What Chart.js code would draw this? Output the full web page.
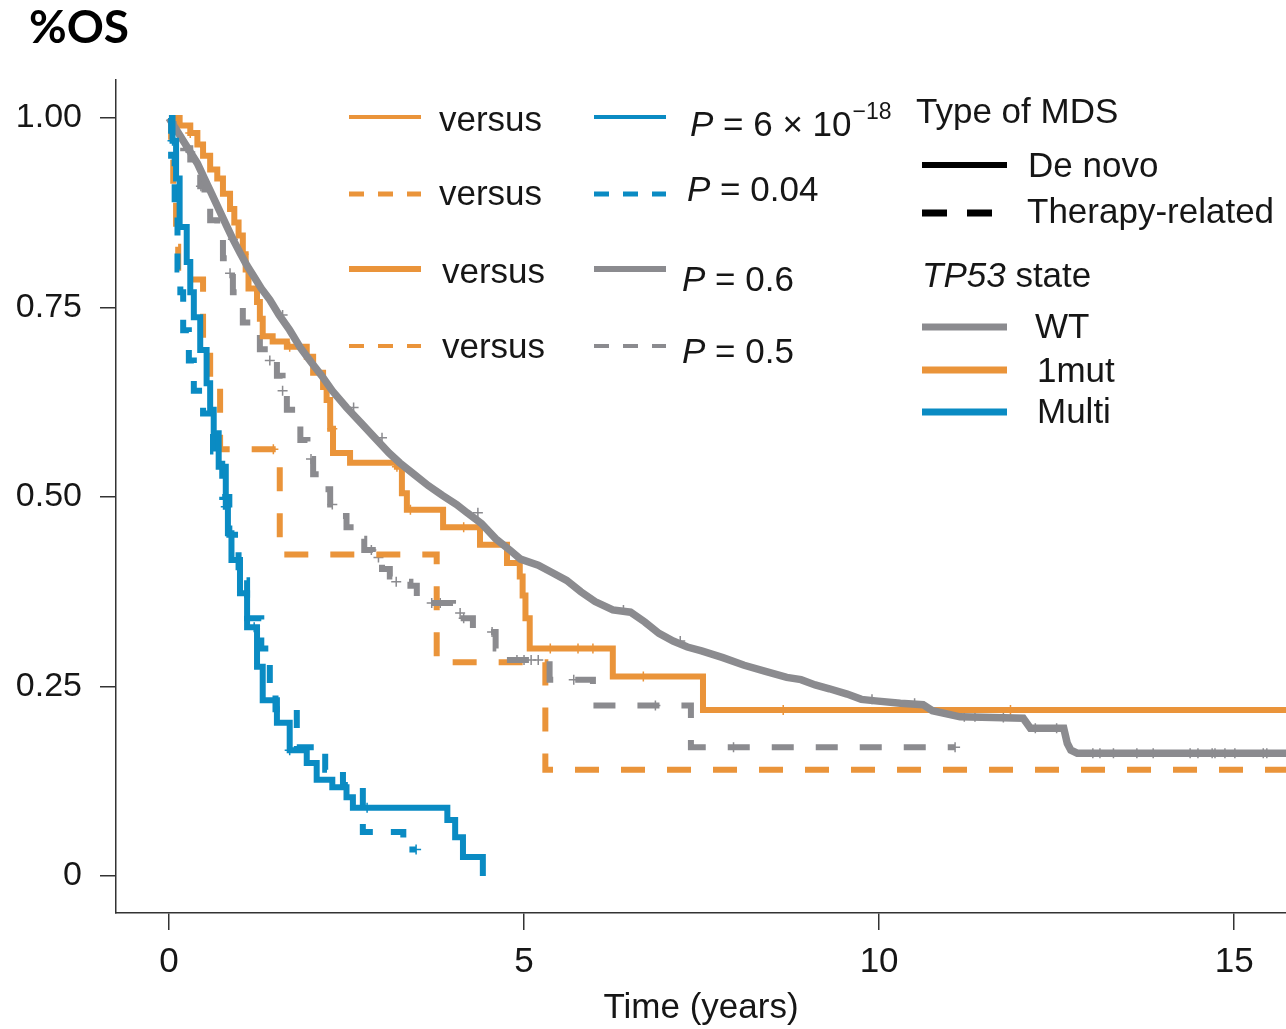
<!DOCTYPE html>
<html>
<head>
<meta charset="utf-8">
<script src="https://cdn.jsdelivr.net/npm/chart.js@4.4.1/dist/chart.umd.min.js"></script>
<style>
  html, body { margin: 0; padding: 0; background: #fff; }
  #osChart { display: block; }
</style>
</head>
<body>
<canvas id="osChart" width="1286" height="1029"></canvas>
<script>
const GRAY = "#8b8b8f";
const ORANGE = "#ea943a";
const BLUE = "#0a8bc3";
const AXIS = "#333333";
const INK = "#161616";
const SANS = "'Liberation Sans', Arial, Helvetica, sans-serif";

// Kaplan-Meier steps: time (years) and survival right after the drop at that time

// TP53 WT, de novo (hundreds of small events, drawn as a polyline)
const wtDeNovoTime = [0, 0.1, 0.2, 0.3, 0.4, 0.5, 0.6, 0.7, 0.8, 0.9, 1.0, 1.1, 1.2, 1.3, 1.42, 1.55, 1.7, 1.85, 2.0, 2.15, 2.3, 2.5, 2.7, 2.9, 3.1, 3.25, 3.45, 3.65, 3.85, 4.05, 4.2, 4.4, 4.6, 4.8, 4.95, 5.2, 5.4, 5.6, 5.8, 6.0, 6.25, 6.5, 6.7, 6.9, 7.1, 7.3, 7.5, 7.8, 8.1, 8.4, 8.7, 8.9, 9.1, 9.3, 9.55, 9.75, 9.95, 10.3, 10.62, 10.75, 11.14, 11.6, 12.03, 12.13, 12.6, 12.65, 12.7, 12.79, 15.73];
const wtDeNovoSurv = [1.0, 0.985, 0.97, 0.955, 0.94, 0.92, 0.9, 0.88, 0.86, 0.84, 0.822, 0.805, 0.79, 0.775, 0.76, 0.74, 0.72, 0.697, 0.678, 0.66, 0.64, 0.618, 0.598, 0.578, 0.558, 0.545, 0.53, 0.515, 0.502, 0.49, 0.479, 0.465, 0.445, 0.43, 0.418, 0.41, 0.4, 0.39, 0.375, 0.362, 0.351, 0.348, 0.335, 0.32, 0.31, 0.302, 0.297, 0.288, 0.278, 0.27, 0.262, 0.259, 0.252, 0.247, 0.24, 0.233, 0.231, 0.228, 0.226, 0.218, 0.21, 0.209, 0.208, 0.195, 0.195, 0.175, 0.166, 0.162, 0.162];
const wtDeNovoCensor = [0.3, 0.9, 1.6, 2.6, 3.0, 4.35, 6.4, 7.2, 9.9, 10.5, 11.2, 11.35, 11.75, 12.2, 12.5, 13.01, 13.11, 13.3, 13.63, 13.86, 14.38, 14.49, 14.69, 14.73, 14.87, 15.01, 15.41, 15.46];

// TP53 WT, therapy-related
const wtTherapyTime = [0, 0.1, 0.2, 0.3, 0.44, 0.5, 0.58, 0.68, 0.76, 0.85, 0.9, 1.0, 1.04, 1.15, 1.28, 1.4, 1.52, 1.6, 1.66, 1.78, 1.85, 1.95, 2.03, 2.15, 2.27, 2.4, 2.5, 2.65, 2.75, 2.87, 3.0, 3.11, 3.2, 3.4, 3.49, 4.0, 4.15, 4.28, 4.45, 4.6, 4.66, 5.36, 5.97, 7.35, 11.07];
const wtTherapySurv = [1.0, 0.98, 0.96, 0.94, 0.91, 0.89, 0.865, 0.845, 0.815, 0.795, 0.77, 0.75, 0.73, 0.715, 0.695, 0.68, 0.66, 0.64, 0.615, 0.595, 0.575, 0.55, 0.53, 0.51, 0.49, 0.475, 0.46, 0.445, 0.43, 0.42, 0.405, 0.395, 0.388, 0.383, 0.36, 0.347, 0.34, 0.325, 0.322, 0.3, 0.285, 0.259, 0.225, 0.17, 0.17];
const wtTherapyCensor = [0.45, 0.86, 1.42, 1.6, 2.0, 2.3, 2.85, 2.95, 3.2, 3.7, 3.82, 4.1, 4.15, 4.55, 4.9, 5.0, 5.1, 5.2, 5.7, 6.85, 7.95, 11.07];

// TP53 single mutation, de novo
const oneMutDeNovoTime = [0, 0.15, 0.3, 0.4, 0.48, 0.58, 0.68, 0.76, 0.86, 0.92, 0.98, 1.04, 1.08, 1.12, 1.24, 1.28, 1.32, 1.46, 1.66, 1.94, 2.03, 2.17, 2.22, 2.27, 2.31, 2.55, 3.21, 3.28, 3.35, 3.86, 4.38, 4.76, 4.94, 4.98, 5.02, 5.08, 6.25, 7.52, 15.73];
const oneMutDeNovoSurv = [1.0, 0.99, 0.98, 0.965, 0.95, 0.932, 0.92, 0.9, 0.88, 0.862, 0.845, 0.82, 0.8, 0.775, 0.757, 0.735, 0.712, 0.705, 0.698, 0.685, 0.664, 0.645, 0.628, 0.59, 0.558, 0.545, 0.54, 0.505, 0.483, 0.46, 0.437, 0.413, 0.395, 0.37, 0.34, 0.3, 0.263, 0.219, 0.219];
const oneMutDeNovoCensor = [0.3, 1.05, 1.7, 2.3, 3.21, 3.4, 4.15, 5.37, 5.76, 5.97, 6.68, 8.65, 11.85];

// TP53 single mutation, therapy-related
const oneMutTherapyTime = [0, 0.03, 0.06, 0.1, 0.13, 0.48, 0.58, 0.72, 1.56, 3.77, 5.3, 15.73];
const oneMutTherapySurv = [1.0, 0.96, 0.9, 0.83, 0.787, 0.7, 0.655, 0.563, 0.424, 0.282, 0.14, 0.14];
const oneMutTherapyCensor = [1.47];

// TP53 multi-hit, de novo
const multiDeNovoTime = [0, 0.05, 0.1, 0.15, 0.25, 0.3, 0.35, 0.44, 0.53, 0.58, 0.63, 0.7, 0.8, 0.83, 0.88, 1.0, 1.1, 1.24, 1.32, 1.52, 1.7, 1.94, 2.08, 2.3, 2.5, 2.59, 3.92, 4.03, 4.14, 4.42];
const multiDeNovoSurv = [1.0, 0.97, 0.92, 0.856, 0.81, 0.77, 0.737, 0.694, 0.65, 0.615, 0.584, 0.54, 0.487, 0.452, 0.417, 0.373, 0.328, 0.276, 0.232, 0.202, 0.166, 0.149, 0.127, 0.117, 0.104, 0.09, 0.074, 0.051, 0.025, 0];
const multiDeNovoCensor = [0.05, 0.8, 1.2, 1.7, 2.79];

// TP53 multi-hit, therapy-related
const multiTherapyTime = [0, 0.03, 0.08, 0.12, 0.16, 0.2, 0.28, 0.35, 0.48, 0.62, 0.75, 0.85, 0.98, 1.1, 1.3, 1.42, 1.5, 1.8, 2.2, 2.45, 2.73, 3.3, 3.48];
const multiTherapySurv = [1.0, 0.95, 0.88, 0.8, 0.77, 0.72, 0.68, 0.64, 0.61, 0.56, 0.5, 0.45, 0.39, 0.34, 0.3, 0.25, 0.22, 0.17, 0.14, 0.12, 0.058, 0.035, 0.035];
const multiTherapyCensor = [3.48];

// axis ticks
const xTickValues = [0, 5, 10, 15];
const xTickLabels = ["0", "5", "10", "15"];
const yTickValues = [0, 0.25, 0.5, 0.75, 1];
const yTickLabels = ["0", "0.25", "0.50", "0.75", "1.00"];

// in-plot comparison legend
const compareP = ["6 \u00d7 10", "0.04", "0.6", "0.5"];
const comparePExp = "\u221218";


function steps(times, surv) {
    return times.map((t, i) => ({ x: t, y: surv[i] }));
}

function survivalAt(times, surv, t) {
    let s = surv[0];
    for (let i = 0; i < times.length; i++) {
        if (times[i] <= t) s = surv[i];
    }
    return s;
}

function censorMarks(times, surv, censor) {
    return censor.map((t) => ({ x: t, y: survivalAt(times, surv, t) }));
}

function curve(times, surv, color, width, dash, stepped) {
    return {
        data: steps(times, surv),
        borderColor: color,
        borderWidth: width,
        borderDash: dash || [],
        borderCapStyle: "butt",
        borderJoinStyle: "miter",
        stepped: stepped === undefined ? "before" : stepped,
        pointRadius: 0,
        fill: false,
    };
}

function marks(times, surv, censor, color) {
    return {
        data: censorMarks(times, surv, censor),
        showLine: false,
        pointStyle: "cross",
        pointRadius: 5,
        pointBorderWidth: 1.5,
        pointBorderColor: color,
        pointBackgroundColor: color,
    };
}

function segment(ctx, x1, x2, y, color, width, dash) {
    ctx.save();
    ctx.strokeStyle = color;
    ctx.lineWidth = width;
    ctx.lineCap = "butt";
    ctx.setLineDash(dash || []);
    ctx.beginPath();
    ctx.moveTo(x1, y);
    ctx.lineTo(x2, y);
    ctx.stroke();
    ctx.restore();
}

function pText(ctx, x, y, rest, exp) {
    ctx.font = "italic 35px " + SANS;
    ctx.fillText("P", x, y);
    x += ctx.measureText("P").width;
    ctx.font = "35px " + SANS;
    const body = " = " + rest;
    ctx.fillText(body, x, y);
    if (exp) {
        x += ctx.measureText(body).width + 1;
        ctx.font = "23px " + SANS;
        ctx.fillText(exp, x, y - 17);
    }
}

const kmLegend = {
    id: "kmLegend",
    afterDraw(chart) {
        const ctx = chart.ctx;
        ctx.save();
        ctx.fillStyle = "#000";
        ctx.textAlign = "left";
        ctx.textBaseline = "alphabetic";

        ctx.font = "bold 46px Lato, 'Open Sans', sans-serif";
        ctx.fillText("%OS", 29, 43);

        // versus rows
        const rowY = [117, 194, 269, 346];
        const textY = [131, 205, 283, 358];
        const pY = [136, 201, 291, 363];
        const versusX = [439, 439, 442, 442];
        const pX = [690, 687, 682, 682];
        const left = [
            [ORANGE, 4, []], [ORANGE, 5, [15, 14]], [ORANGE, 6, []], [ORANGE, 4, [15, 14]],
        ];
        const right = [
            [BLUE, 4, []], [BLUE, 5, [15, 14]], [GRAY, 6, []], [GRAY, 4, [15, 14]],
        ];
        ctx.fillStyle = INK;
        for (let i = 0; i < 4; i++) {
            segment(ctx, 349, 421, rowY[i], left[i][0], left[i][1], left[i][2]);
            segment(ctx, 594, 666, rowY[i], right[i][0], right[i][1], right[i][2]);
            ctx.font = "35px " + SANS;
            ctx.fillText("versus", versusX[i], textY[i]);
            pText(ctx, pX[i], pY[i], compareP[i], i === 0 ? comparePExp : null);
        }

        // type of MDS / TP53 state key
        ctx.font = "35px " + SANS;
        ctx.fillText("Type of MDS", 916, 123);
        segment(ctx, 922, 1007, 165, "#000", 6);
        ctx.fillText("De novo", 1028, 177);
        segment(ctx, 922, 992, 213, "#000", 7, [25, 20]);
        ctx.fillText("Therapy-related", 1027, 223);

        ctx.font = "italic 35px " + SANS;
        ctx.fillText("TP53", 922, 287);
        const tpW = ctx.measureText("TP53").width;
        ctx.font = "35px " + SANS;
        ctx.fillText(" state", 922 + tpW, 287);

        segment(ctx, 922, 1007, 327, GRAY, 7);
        ctx.fillText("WT", 1035, 338);
        segment(ctx, 922, 1007, 370, ORANGE, 7);
        ctx.fillText("1mut", 1037, 382);
        segment(ctx, 922, 1007, 412, BLUE, 7);
        ctx.fillText("Multi", 1037, 423);

        ctx.restore();
    },
};

const datasets = [
    curve(multiDeNovoTime, multiDeNovoSurv, BLUE, 6),
    curve(multiTherapyTime, multiTherapySurv, BLUE, 6, [18, 18]),
    curve(wtDeNovoTime, wtDeNovoSurv, GRAY, 7.5, [], false),
    curve(oneMutDeNovoTime, oneMutDeNovoSurv, ORANGE, 6),
    curve(wtTherapyTime, wtTherapySurv, GRAY, 6, [22, 22]),
    curve(oneMutTherapyTime, oneMutTherapySurv, ORANGE, 6, [24, 22]),
    marks(wtDeNovoTime, wtDeNovoSurv, wtDeNovoCensor, GRAY),
    marks(wtTherapyTime, wtTherapySurv, wtTherapyCensor, GRAY),
    marks(oneMutDeNovoTime, oneMutDeNovoSurv, oneMutDeNovoCensor, ORANGE),
    marks(oneMutTherapyTime, oneMutTherapySurv, oneMutTherapyCensor, ORANGE),
    marks(multiDeNovoTime, multiDeNovoSurv, multiDeNovoCensor, BLUE),
    marks(multiTherapyTime, multiTherapySurv, multiTherapyCensor, BLUE),
];

new Chart(document.getElementById("osChart"), {
    type: "line",
    data: { datasets: datasets },
    options: {
        responsive: false,
        animation: false,
        events: [],
        layout: { autoPadding: false, padding: { top: 80, left: 0, right: 0, bottom: 0 } },
        plugins: {
            legend: { display: false },
            tooltip: { enabled: false },
        },
        scales: {
            x: {
                type: "linear",
                min: -0.746,
                max: 15.73,
                afterFit: (scale) => {
                    scale.height = 116;
                    scale.paddingLeft = 0;
                    scale.paddingRight = 0;
                },
                afterBuildTicks: (scale) => { scale.ticks = xTickValues.map((v) => ({ value: v })); },
                ticks: {
                    callback: (value, index) => xTickLabels[index],
                    color: INK,
                    font: { family: SANS, size: 35 },
                    padding: 11,
                    maxRotation: 0,
                },
                grid: { drawOnChartArea: false, drawTicks: true, tickLength: 17, color: AXIS, lineWidth: 1.5 },
                border: { display: true, color: AXIS, width: 1.5 },
                title: {
                    display: true,
                    text: "Time (years)",
                    color: INK,
                    font: { family: SANS, size: 35, lineHeight: 1.2 },
                    padding: { top: 0, bottom: 0 },
                },
            },
            y: {
                type: "linear",
                min: -0.0488,
                max: 1.05,
                afterFit: (scale) => {
                    scale.width = 116;
                    scale.paddingTop = 0;
                    scale.paddingBottom = 0;
                },
                afterBuildTicks: (scale) => { scale.ticks = yTickValues.map((v) => ({ value: v })); },
                ticks: {
                    callback: (value, index) => yTickLabels[index],
                    color: INK,
                    font: { family: SANS, size: 34 },
                    padding: 18,
                },
                grid: { drawOnChartArea: false, drawTicks: true, tickLength: 16, color: AXIS, lineWidth: 1.5 },
                border: { display: true, color: AXIS, width: 1.5 },
            },
        },
    },
    plugins: [kmLegend],
});
</script>
</body>
</html>
